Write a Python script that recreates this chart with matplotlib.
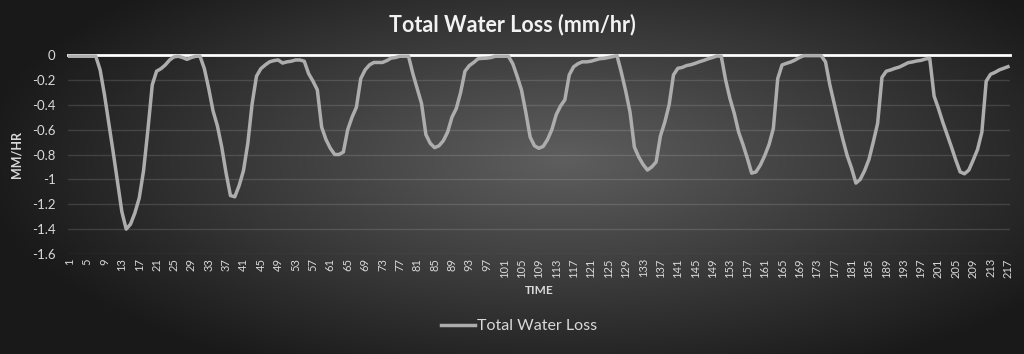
import numpy as np
import matplotlib
matplotlib.use("Agg")
import matplotlib.pyplot as plt

# Total water loss per time step (mm/hr)
water_loss = [
    -0.01, -0.01, -0.01, -0.01, -0.01, -0.01, -0.01, -0.12, -0.32, -0.55,
    -0.78, -1.02, -1.26, -1.40, -1.36, -1.27, -1.15, -0.93, -0.60, -0.24,
    -0.13, -0.11, -0.08, -0.04, -0.015, -0.01, -0.02, -0.035, -0.02, -0.01,
    -0.01, -0.11, -0.27, -0.45, -0.57, -0.74, -0.95, -1.13, -1.14, -1.05,
    -0.93, -0.71, -0.39, -0.17, -0.11, -0.08, -0.055, -0.045, -0.04, -0.065,
    -0.055, -0.05, -0.04, -0.04, -0.05, -0.15, -0.21, -0.28, -0.58, -0.68,
    -0.75, -0.80, -0.80, -0.78, -0.60, -0.50, -0.42, -0.19, -0.12, -0.08,
    -0.06, -0.06, -0.06, -0.045, -0.025, -0.02, -0.01, -0.01, -0.01, -0.15,
    -0.27, -0.39, -0.64, -0.71, -0.745, -0.73, -0.69, -0.62, -0.50, -0.43,
    -0.30, -0.13, -0.085, -0.06, -0.03, -0.027, -0.025, -0.02, -0.01, -0.01,
    -0.01, -0.01, -0.07, -0.17, -0.28, -0.46, -0.66, -0.73, -0.75, -0.735,
    -0.68, -0.60, -0.48, -0.41, -0.36, -0.16, -0.095, -0.07, -0.055, -0.055,
    -0.05, -0.04, -0.03, -0.027, -0.02, -0.013, -0.005, -0.14, -0.29, -0.46,
    -0.74, -0.82, -0.88, -0.925, -0.90, -0.86, -0.65, -0.54, -0.40, -0.16,
    -0.107, -0.10, -0.085, -0.078, -0.067, -0.054, -0.043, -0.03, -0.02, -0.008,
    -0.01, -0.20, -0.35, -0.47, -0.62, -0.72, -0.83, -0.95, -0.94, -0.885,
    -0.81, -0.72, -0.59, -0.19, -0.08, -0.067, -0.056, -0.04, -0.02, -0.005,
    -0.005, -0.005, -0.005, -0.005, -0.055, -0.24, -0.39, -0.54, -0.68, -0.81,
    -0.91, -1.03, -1.00, -0.93, -0.84, -0.70, -0.55, -0.18, -0.13, -0.12,
    -0.107, -0.097, -0.08, -0.062, -0.056, -0.048, -0.043, -0.032, -0.027, -0.33,
    -0.43, -0.54, -0.64, -0.74, -0.845, -0.94, -0.955, -0.925, -0.845, -0.76,
    -0.62, -0.21, -0.155, -0.14, -0.12, -0.107, -0.094,
]
time = list(range(1, len(water_loss) + 1))
tick_labels = time[::4]
y_ticks = [0, -0.2, -0.4, -0.6, -0.8, -1, -1.2, -1.4, -1.6]

plt.rcParams['font.family'] = ['Lato', 'DejaVu Sans']
text_col = '#d9d9d9'

fig = plt.figure(figsize=(10.24, 3.54), dpi=100)

# radial dark-grey background
bg = fig.add_axes([0, 0, 1, 1])
gx, gy = np.meshgrid(np.linspace(-1, 1, 512), np.linspace(-1, 1, 180))
r = np.sqrt(((gx - 0.1) / 1.1) ** 2 + ((gy + 0.1) / 1.3) ** 2)
shade = np.clip(0.37 - 0.26 * r, 0.1, 0.37)
bg.imshow(np.dstack([shade] * 3), aspect='auto', extent=[0, 1, 0, 1])
bg.set_axis_off()

ax = fig.add_axes([0.0664, 0.2825, 0.9196, 0.5621])
ax.patch.set_alpha(0)

ax.plot(time, water_loss, color='#adadad', lw=2.5, solid_joinstyle='round',
        label='Total Water Loss', clip_on=False, zorder=3)
ax.axhline(0, color='white', lw=2, zorder=2, clip_on=False)

ax.set_xlim(0.6, len(time) + 0.4)
ax.set_ylim(-1.6, 0)
ax.set_yticks(y_ticks)
ax.set_yticklabels(['0', '-0.2', '-0.4', '-0.6', '-0.8', '-1', '-1.2', '-1.4', '-1.6'])
ax.set_xticks(tick_labels)
ax.set_xticklabels([str(t) for t in tick_labels], rotation=90)
ax.tick_params(axis='both', length=0, colors=text_col)
ax.tick_params(axis='y', labelsize=9.5, pad=9)
ax.tick_params(axis='x', labelsize=8, pad=3)
ax.grid(axis='y', color='#ffffff', alpha=0.13, lw=1)
for s in ax.spines.values():
    s.set_visible(False)

ax.set_xlabel('TIME', color=text_col, fontsize=8.5, fontweight='bold', labelpad=5)
ax.set_ylabel('MM/HR', color=text_col, fontsize=9, fontweight='bold', labelpad=7)

fig.text(0.5, 0.93, 'Total Water Loss (mm/hr)', ha='center', va='center',
         color='#f2f2f2', fontsize=15.5, fontweight='bold')

leg = fig.legend(loc='center', bbox_to_anchor=(0.507, 0.078), frameon=False,
                 fontsize=11.5, handlelength=2.1, handletextpad=0.15)
for t in leg.get_texts():
    t.set_color(text_col)

fig.savefig('out.png', dpi=100)
